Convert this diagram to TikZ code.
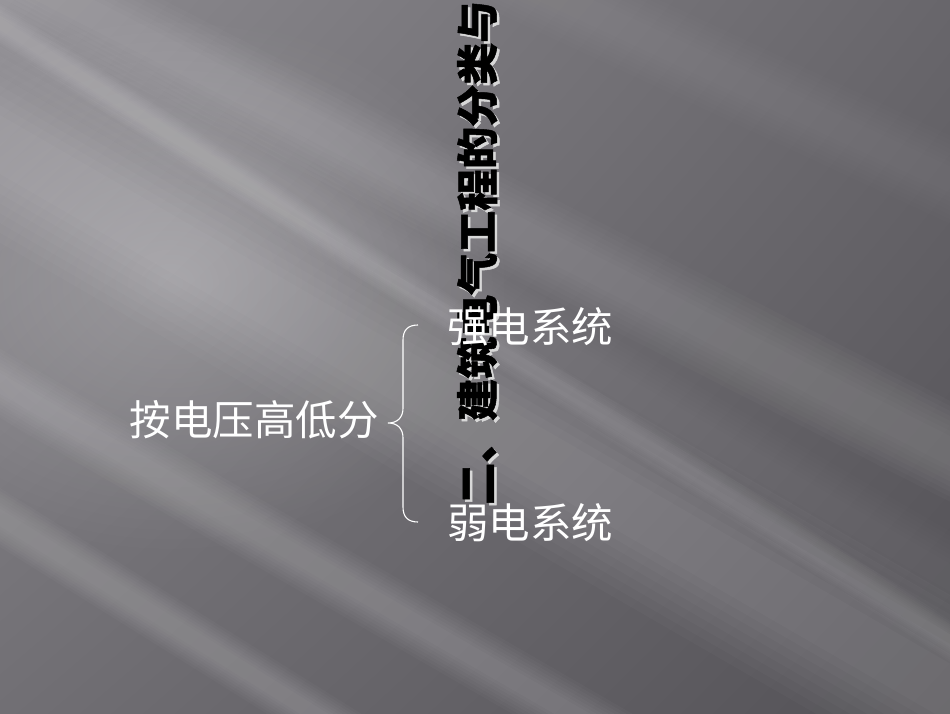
\documentclass[tikz,border=0pt]{standalone}
\usepackage{fontspec}
\usetikzlibrary{shadings,fadings}
\newfontfamily\cjk{Noto Sans CJK SC}
\newfontfamily\cjkt[BoldFeatures={FakeBold=1.2}]{Noto Sans CJK SC}
\definecolor{bgA}{HTML}{8C8A8F}
\definecolor{bgB}{HTML}{68666B}
\definecolor{bgC}{HTML}{716F74}
\definecolor{bgD}{HTML}{535156}
\definecolor{shadowgray}{HTML}{D8D8D8}
\tikzfading[name=glow, inner color=transparent!55, outer color=transparent!100]
% point, angle, width, opacity per step
\newcommand\mystreak[4]{%
  \foreach \i in {3,...,10}{%
    \draw[white, opacity=#4, line width={#3*\i/10}] #1 ++({#2+180}:1500) -- ++(#2:3000);}}
\tikzset{
  label/.style={font=\cjk\fontsize{41.5}{50}\selectfont, text=white, inner sep=0pt},
  titletext/.style={font=\cjkt\bfseries\fontsize{42}{50}\selectfont, inner sep=0pt, rotate=90, anchor=west},
  brace/.style={draw=white, line width=1.1pt}
}
\begin{document}
\begin{tikzpicture}[x=1pt,y=1pt]
\useasboundingbox (0,0) rectangle (950,713);
\clip (0,0) rectangle (950,713);
\shade[upper left=bgA, upper right=bgB, lower left=bgC, lower right=bgD] (0,0) rectangle (950,713);
% soft glow in the upper left
\fill[white, path fading=glow, opacity=0.5] (170,430) ellipse (340 and 270);
% light streaks
\mystreak{(200,453)}{-30}{170}{0.022}
\mystreak{(300,593)}{-27}{90}{0.018}
\mystreak{(150,243)}{-30}{60}{0.024}
\mystreak{(100,133)}{-32}{50}{0.022}
\mystreak{(610,293)}{-33}{35}{0.02}
\mystreak{(850,193)}{-30}{80}{0.01}
\mystreak{(700,650)}{-25}{80}{0.008}
% vertical title with shadow
\node[titletext, text=shadowgray] (titleshadow) at (479.5,205.5) {二、建筑电气工程的分类与};
\node[titletext, text=black] (title) at (477,208) {二、建筑电气工程的分类与};
% labels
\node[label] (volt) at (254,293) {按电压高低分};
\node[label] (strong) at (530,386) {强电系统};
\node[label] (weak) at (530,190) {弱电系统};
% brace
\coordinate (btop) at (418,388);
\coordinate (btip) at (388,290);
\coordinate (bbot) at (418,191);
\draw[brace] (btop) .. controls (408,388) and (403,383) .. (403,373) -- (403,305)
  .. controls (403,296) and (398,290) .. (btip)
  .. controls (398,290) and (403,284) .. (403,275) -- (403,206)
  .. controls (403,196) and (408,191) .. (bbot);
\end{tikzpicture}
\end{document}
